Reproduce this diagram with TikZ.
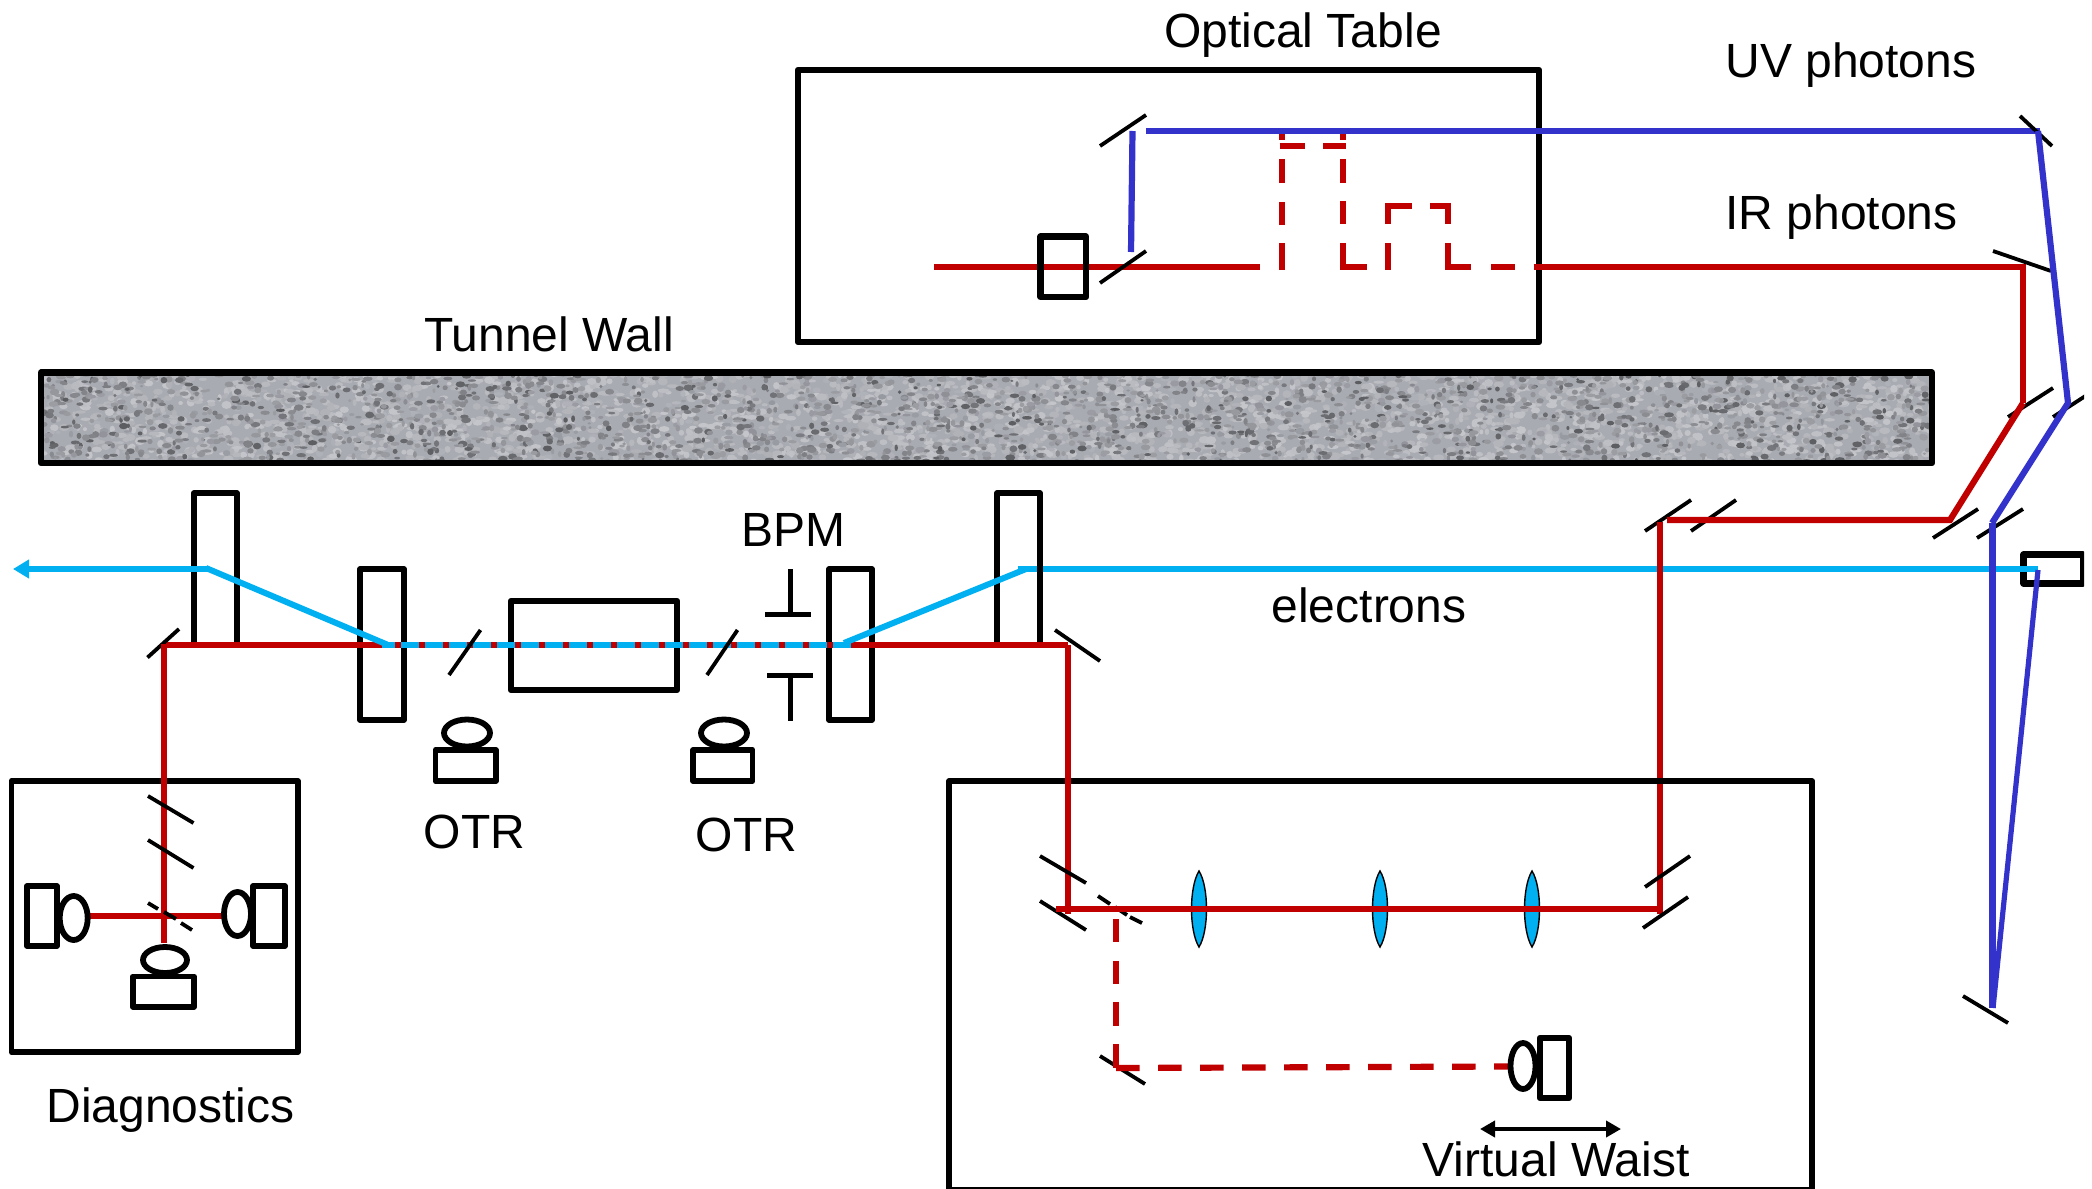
\documentclass[tikz,border=0pt]{standalone}
\usepackage{fontspec}
\setmainfont{Liberation Sans}
\usetikzlibrary{arrows.meta}
\definecolor{irred}{HTML}{C00000}
\definecolor{uvblue}{HTML}{3333CC}
\definecolor{ecyan}{HTML}{00B0F0}
\definecolor{wallgrey}{HTML}{A9ABB2}
\tikzset{
  frame/.style={draw=black,line width=3.2pt,line join=round,fill=none},
  thinframe/.style={draw=black,line width=2.9pt,line join=round},
  mirrorline/.style={draw=black,line width=1.9pt},
  irbeam/.style={draw=irred,line width=3.1pt},
  irdash/.style={draw=irred,line width=3.1pt},
  uvbeam/.style={draw=uvblue,line width=3.1pt},
  ebeam/.style={draw=ecyan,line width=3pt},
  lenselt/.pic={\path[fill=ecyan,draw=black,line width=0.7pt] (0,-38) .. controls (-10,-22) and (-10,22) .. (0,38) .. controls (10,22) and (10,-22) .. (0,-38) -- cycle;},
  lab/.style={font=\fontsize{24}{28}\selectfont,inner sep=0pt,text=black}
}
\begin{document}
\begin{tikzpicture}[x=0.5pt,y=-0.5pt]
\useasboundingbox (0,0) rectangle (2092,1188);
\begin{scope}
\clip (0,0) rectangle (2084,1188);

% tunnel wall with concrete texture
\fill[wallgrey] (41,372) rectangle (1932,463);
\begin{scope}
\clip (41,372) rectangle (1932,463);
\pgfmathsetseed{11}
\foreach \i in {1,...,2800}{
  \pgfmathsetmacro\px{41+rnd*1891}
  \pgfmathsetmacro\py{372+rnd*91}
  \pgfmathsetmacro\ra{2+rnd*4}
  \pgfmathsetmacro\rb{1.5+rnd*2.5}
  \pgfmathsetmacro\tone{68+rnd*26}
  \fill[wallgrey!\tone!white] (\px,\py) ellipse ({\ra} and {\rb});
}
\foreach \i in {1,...,2400}{
  \pgfmathsetmacro\px{41+rnd*1891}
  \pgfmathsetmacro\py{372+rnd*91}
  \pgfmathsetmacro\ra{1.5+rnd*3.5}
  \pgfmathsetmacro\rb{1.2+rnd*2.2}
  \pgfmathsetmacro\tone{92-pow(rnd,2)*38}
  \fill[wallgrey!\tone!black] (\px,\py) ellipse ({\ra} and {\rb});
}
\end{scope}
\draw[frame] (41,372.5) rectangle (1932,463);

% optical table
\draw[frame] (798,70) rectangle (1539,342);
\draw[irbeam] (934,267) -- (1237,267);
\draw[frame] (1040.5,236.5) rectangle (1086,297);
\draw[mirrorline] (1100,146) -- (1146,115);
\draw[mirrorline] (1100,283) -- (1146,251);
\draw[uvbeam] (1132.5,131) -- (1131,252);
% dashed delay lines
\draw[irdash] (1237,267) -- (1260,267);
\draw[irdash] (1279,267) -- (1282,267) -- (1282,243);
\draw[irdash] (1282,225) -- (1282,202);
\draw[irdash] (1282,183) -- (1282,159);
\draw[irdash] (1282,133) -- (1282,140);
\draw[irdash] (1279.5,146) -- (1305,146);
\draw[irdash] (1323,146) -- (1345.5,146);
\draw[irdash] (1343,133) -- (1343,140);
\draw[irdash] (1343,159) -- (1343,183);
\draw[irdash] (1343,201) -- (1343,224);
\draw[irdash] (1343,243) -- (1343,267) -- (1367,267);
\draw[irdash] (1385,267) -- (1388,267) -- (1388,243);
\draw[irdash] (1388,224) -- (1388,206) -- (1412,206);
\draw[irdash] (1430,206) -- (1448,206) -- (1448,224);
\draw[irdash] (1448,243) -- (1448,267) -- (1471,267);
\draw[irdash] (1491,267) -- (1515,267);
\draw[irbeam] (1533.5,267) -- (2026,267);
\draw[uvbeam] (1146,131) -- (2040,131);

% right-hand launch optics
\draw[mirrorline] (2020,116) -- (2052,146);
\draw[mirrorline] (1993,251) -- (2051,271);
\draw[mirrorline] (2008,417) -- (2053,388);
\draw[mirrorline] (2053,417) -- (2090,393);
\draw[mirrorline] (1933,538) -- (1978,509);
\draw[mirrorline] (1977,538) -- (2023,509);
\draw[mirrorline] (1645,531) -- (1691,500);
\draw[mirrorline] (1691,531) -- (1736,500);
\draw[mirrorline] (1963,996) -- (2008,1023);
\draw[irbeam] (2023,267) -- (2023,403);
\draw[irbeam] (2023,403) -- (1950,520) -- (1667,520);
\draw[uvbeam] (2038,131) -- (2068,403) -- (1992,523);

% injector box
\draw[frame] (2023.5,554.5) rectangle (2083,583.5);

% electron line
\draw[ebeam] (1018,569) -- (2038,569);
\draw[irbeam] (1660,522) -- (1660,914);
\draw[uvbeam,line width=3.5pt] (1992,523) -- (1992,1008);
\draw[uvbeam,line width=2.6pt] (1993,1008) -- (2038,570);

% beamline magnets and elements
\draw[thinframe] (194,493) rectangle (237,645);
\draw[thinframe] (360,569) rectangle (404,720);
\draw[frame] (511,601) rectangle (677,690);
\draw[thinframe] (829,569) rectangle (872,720);
\draw[thinframe] (997,493) rectangle (1040,645);
\draw[irbeam] (163,645) -- (1068,645);
\draw[ebeam,dash pattern=on 9.15pt off 2.85pt,dash phase=2.75pt] (382,645) -- (851,645);
\draw[ebeam,-{Triangle[length=8pt,width=9pt]}] (209,569) -- (13,569);
\draw[ebeam] (206,568) -- (387,644.5);
\draw[ebeam] (844,643) -- (1026,569);

% OTR screens and cameras
\draw[mirrorline] (449,675) -- (480.5,630);
\draw[mirrorline] (707,675) -- (737.5,630);
\draw[mirrorline] (1055,630) -- (1100,661);
\draw[mirrorline] (147.5,657.5) -- (179,629);
\draw[thinframe] (467,733) ellipse (23 and 13.5);
\draw[thinframe] (435.5,750) rectangle (496,781);
\draw[thinframe] (724,733) ellipse (23 and 13.5);
\draw[thinframe] (693,750) rectangle (752.5,781);

% BPM
\draw[draw=black,line width=2.5pt] (790,569) -- (790,614);
\draw[draw=black,line width=2.5pt] (765,614) -- (811,614);
\draw[draw=black,line width=2.5pt] (767,675) -- (813,675);
\draw[draw=black,line width=2.5pt] (790,675) -- (790,721);

% diagnostics box
\draw[thinframe] (11.5,781) rectangle (298,1052);
\draw[irbeam] (163.6,644) -- (163.6,943);
\draw[irbeam] (90,916) -- (222,916);
\draw[mirrorline] (148,796) -- (193.5,823);
\draw[mirrorline] (148,840) -- (193.5,868);
\draw[mirrorline] (148,903) -- (158,909);
\draw[mirrorline] (164,912) -- (176,919);
\draw[mirrorline] (181,923) -- (192,930);
\draw[thinframe] (73.7,918) ellipse (14 and 22);
\draw[thinframe] (27,886) rectangle (57,946);
\draw[thinframe] (237.5,914) ellipse (13.5 and 22);
\draw[thinframe] (253,886) rectangle (285,946);
\draw[thinframe] (165,960) ellipse (22 and 13);
\draw[thinframe] (133,976.5) rectangle (194,1007);

% lower table
\draw[thinframe] (949,781) rectangle (1812,1190);
\draw[irbeam] (1068,645) -- (1068,914);
\draw[mirrorline] (1040,856) -- (1086,883);
\draw[mirrorline] (1040,901) -- (1086,930);
\draw[mirrorline] (1098,896) -- (1110,904);
\draw[mirrorline] (1115,907) -- (1127,915);
\draw[mirrorline] (1130,917) -- (1142,923);
\draw[mirrorline] (1645,887) -- (1690,856);
\draw[mirrorline] (1643,928) -- (1688,897);
\draw[mirrorline] (1100,1056) -- (1145,1084);
\pic at (1199,909) {lenselt};
\pic at (1380,909) {lenselt};
\pic at (1532,909) {lenselt};
\draw[irbeam] (1056,909) -- (1662,909);
\draw[irdash] (1116,919) -- (1116,942);
\draw[irdash] (1116,961) -- (1116,984);
\draw[irdash] (1116,1002) -- (1116,1026);
\draw[irdash] (1116,1044) -- (1116,1068);
\draw[irdash,dash pattern=on 11.75pt off 9.25pt] (1116,1068) -- (1509,1066.5);
\draw[thinframe] (1523,1066) ellipse (12.5 and 23);
\draw[frame] (1540,1038) rectangle (1569,1098);
\draw[line width=2.4pt,{Triangle[length=7.5pt,width=8pt]}-{Triangle[length=7.5pt,width=8pt]}] (1480,1129) -- (1621,1129);

% labels
\node[lab,anchor=base] (lblOptical) at (1303,47.5) {Optical Table};
\node[lab,anchor=base west] (lblUV) at (1725,78) {UV photons};
\node[lab,anchor=base west] (lblIR) at (1725,229) {IR photons};
\node[lab,anchor=base] (lblWall) at (549,351) {Tunnel Wall};
\node[lab,anchor=base] (lblBPM) at (793,546) {BPM};
\node[lab,anchor=base] (lblElectrons) at (1369,622) {electrons};
\node[lab,anchor=base] (lblOTRa) at (474.5,848) {OTR};
\node[lab,anchor=base] (lblOTRb) at (746.5,851) {OTR};
\node[lab,anchor=base] (lblDiag) at (170.5,1122.5) {Diagnostics};
\node[lab,anchor=base] (lblWaist) at (1556,1176) {Virtual Waist};
\end{scope}
\end{tikzpicture}
\end{document}
